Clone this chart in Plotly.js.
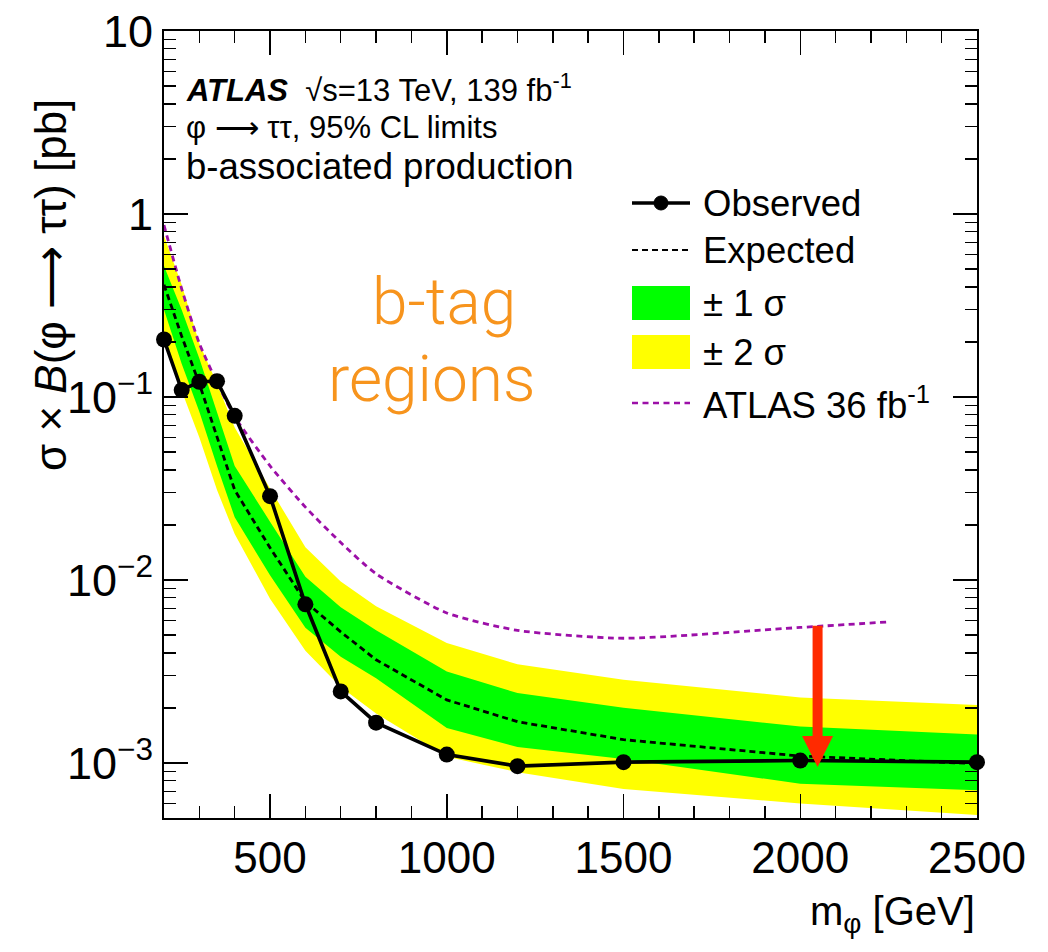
<!DOCTYPE html>
<html>
<head>
<meta charset="utf-8">
<script src="https://cdn.plot.ly/plotly-3.0.1.min.js"></script>
<style>
  html, body { margin: 0; padding: 0; background: #ffffff; }
  #chart { width: 1048px; height: 952px; }
</style>
</head>
<body>
<div id="chart"></div>
<script>
// ---- data ----
const mass = [200, 250, 300, 350, 400, 500, 600, 700, 800, 1000, 1200, 1500, 2000, 2500];
const observed = [0.206, 0.109, 0.121, 0.122, 0.0789, 0.0287, 0.00736, 0.00246, 0.00166, 0.00111, 0.00096, 0.00101, 0.00103, 0.00101];
const expected = [0.41, 0.215, 0.118, 0.060, 0.0310, 0.0150, 0.0076, 0.0052, 0.00366, 0.00221, 0.00168, 0.00134, 0.00109, 0.00099];
const sigma1Up = [0.52, 0.30, 0.162, 0.083, 0.0420, 0.0208, 0.0104, 0.0071, 0.00531, 0.00316, 0.00241, 0.0020, 0.00158, 0.00143];
const sigma1Down = [0.30, 0.152, 0.083, 0.042, 0.0220, 0.0106, 0.00548, 0.0038, 0.00290, 0.00155, 0.00122, 0.00105, 0.00077, 0.00071];
const sigma2Up = [0.76, 0.41, 0.196, 0.118, 0.0680, 0.0316, 0.0151, 0.0098, 0.00718, 0.00452, 0.00346, 0.00285, 0.00228, 0.00207];
const sigma2Down = [0.222, 0.108, 0.060, 0.031, 0.0178, 0.0079, 0.0041, 0.0026, 0.00186, 0.00108, 0.00089, 0.00072, 0.00060, 0.00052];

const mass36 = [200, 250, 300, 350, 400, 500, 600, 700, 800, 1000, 1200, 1500, 2000, 2250];
const atlas36 = [0.87, 0.39, 0.196, 0.12, 0.078, 0.042, 0.0250, 0.0160, 0.0108, 0.0066, 0.0053, 0.0048, 0.0055, 0.0059];

const arrowMass = 2049;
const arrowFrom = 0.00573;
const arrowTo = 0.00095;

const xTickVals = [500, 1000, 1500, 2000, 2500];
const yTickVals = [0.001, 0.01, 0.1, 1, 10];
const yTickText = ['10<sup>\u22123</sup>', '10<sup>\u22122</sup>', '10<sup>\u22121</sup>', '1', '10'];

// ---- helpers ----
const W = 1048, H = 952;
const M = {l: 164, r: 71, t: 31, b: 134};
const PW = W - M.l - M.r, PH = H - M.t - M.b;
const px = v => (v - M.l) / PW;          // pixel x -> paper x
function pyp(v) { return (M.t + PH - v) / PH; } // pixel y -> paper y

const FONT = 'Liberation Sans, Arial, Helvetica, sans-serif';

function band(up, down) {
  return {
    x: mass.concat(mass.slice().reverse()),
    y: up.concat(down.slice().reverse())
  };
}
const b2 = band(sigma2Up, sigma2Down);
const b1 = band(sigma1Up, sigma1Down);

const traces = [
  {x: b2.x, y: b2.y, type: 'scatter', mode: 'lines', fill: 'toself', fillcolor: '#ffff00',
   line: {width: 0, color: '#ffff00'}, hoverinfo: 'skip', showlegend: false},
  {x: b1.x, y: b1.y, type: 'scatter', mode: 'lines', fill: 'toself', fillcolor: '#00ff00',
   line: {width: 0, color: '#00ff00'}, hoverinfo: 'skip', showlegend: false},
  {x: mass36, y: atlas36, type: 'scatter', mode: 'lines',
   line: {color: '#9c0fa8', width: 2.8, dash: '6px,4.5px', shape: 'spline', smoothing: 0.6}, showlegend: false},
  {x: mass, y: expected, type: 'scatter', mode: 'lines',
   line: {color: '#000000', width: 2.8, dash: '6px,4px'}, showlegend: false},
  {x: mass, y: observed, type: 'scatter', mode: 'lines+markers',
   line: {color: '#000000', width: 3.6}, marker: {color: '#000000', size: 16},
   showlegend: false, cliponaxis: false}
];

// legend rows (pixel y)
const legX0 = 632, legX1 = 690, legText = 701;
const rows = {obs: 203, exp: 250, s1: 303, s2: 352, a36: 403};

const shapes = [
  {type: 'line', xref: 'paper', yref: 'paper', x0: px(legX0), x1: px(legX1), y0: pyp(rows.obs), y1: pyp(rows.obs),
   line: {color: '#000', width: 3.6}},
  {type: 'circle', xref: 'paper', yref: 'paper', x0: px(654), x1: px(668), y0: pyp(rows.obs + 7), y1: pyp(rows.obs - 7),
   fillcolor: '#000', line: {color: '#000', width: 1}},
  {type: 'line', xref: 'paper', yref: 'paper', x0: px(legX0), x1: px(legX1), y0: pyp(rows.exp), y1: pyp(rows.exp),
   line: {color: '#000', width: 2.2, dash: '6px,4px'}},
  {type: 'rect', xref: 'paper', yref: 'paper', x0: px(legX0), x1: px(legX1), y0: pyp(rows.s1 + 17), y1: pyp(rows.s1 - 17),
   fillcolor: '#00ff00', line: {width: 0}},
  {type: 'rect', xref: 'paper', yref: 'paper', x0: px(legX0), x1: px(legX1), y0: pyp(rows.s2 + 17), y1: pyp(rows.s2 - 17),
   fillcolor: '#ffff00', line: {width: 0}},
  {type: 'line', xref: 'paper', yref: 'paper', x0: px(legX0), x1: px(legX1), y0: pyp(rows.a36), y1: pyp(rows.a36),
   line: {color: '#9c0fa8', width: 2.4, dash: '6px,4.5px'}}
];

function txt(text, x, y, size, opts) {
  return Object.assign({
    text: text, xref: 'paper', yref: 'paper', x: px(x), y: pyp(y),
    xanchor: 'left', yanchor: 'middle', showarrow: false,
    font: {family: FONT, size: size, color: '#000'}
  }, opts || {});
}

const LS = 36.5;
const orangeFont = {family: 'Roboto, Lato, sans-serif', size: 64, color: '#f7941d', weight: 300};
const annotations = [
  txt('<b><i>ATLAS</i></b>  \u221As=13 TeV, 139 fb<sup>-1</sup>', 184, 88, 31),
  txt('\u03c6 \u27f6 \u03c4\u03c4, 95% CL limits', 184, 128, 31),
  txt('b-associated production', 184, 166, 36.5),
  txt('Observed', legText, rows.obs, LS),
  txt('Expected', legText, rows.exp, LS),
  txt('\u00b1 1 \u03c3', legText, rows.s1, LS),
  txt('\u00b1 2 \u03c3', legText, rows.s2, LS),
  txt('ATLAS 36 fb<sup>-1</sup>', legText, rows.a36, LS),
  txt('b-tag', 444, 302, 64, {xanchor: 'center', font: orangeFont}),
  txt('regions', 431, 380, 64, {xanchor: 'center', font: orangeFont}),
  txt('m<sub>\u03c6</sub> [GeV]', 977, 914, 40, {xanchor: 'right'}),
  {text: '\u03c3 \u00d7 <i>B</i>(\u03c6 \u27f6 \u03c4\u03c4) [pb]', xref: 'paper', yref: 'paper',
   x: px(50), y: pyp(285), xanchor: 'center', yanchor: 'middle', textangle: -90, showarrow: false,
   font: {family: FONT, size: 44, color: '#000'}},
  // red arrow
  {x: arrowMass, y: Math.log10(arrowTo), ax: arrowMass, ay: Math.log10(arrowFrom),
   xref: 'x', yref: 'y', axref: 'x', ayref: 'y', text: '', showarrow: true,
   arrowhead: 2, arrowsize: 0.62, arrowwidth: 10, arrowcolor: '#ff2a00'}
];

const layout = {
  width: W, height: H,
  margin: M,
  paper_bgcolor: '#ffffff', plot_bgcolor: '#ffffff',
  showlegend: false,
  font: {family: FONT, color: '#000'},
  xaxis: {
    type: 'linear', range: [200, 2500],
    tickmode: 'array', tickvals: xTickVals,
    ticks: 'inside', ticklen: 24, tickwidth: 1.5, tickcolor: '#000',
    minor: {tickmode: 'linear', tick0: 0, dtick: 100, ticks: 'inside', ticklen: 12, tickwidth: 1.5, tickcolor: '#000'},
    showline: true, linecolor: '#000', linewidth: 2, mirror: 'allticks',
    showgrid: false, zeroline: false,
    tickfont: {family: FONT, size: 44, color: '#000'}
  },
  yaxis: {
    type: 'log', range: [Math.log10(5e-4), 1],
    tickmode: 'array', tickvals: yTickVals, ticktext: yTickText,
    ticks: 'inside', ticklen: 24, tickwidth: 1.5, tickcolor: '#000',
    minor: {dtick: 'D1', ticks: 'inside', ticklen: 12, tickwidth: 1.5, tickcolor: '#000'},
    showline: true, linecolor: '#000', linewidth: 2, mirror: 'allticks',
    showgrid: false, zeroline: false,
    tickfont: {family: FONT, size: 45, color: '#000'}
  },
  shapes: shapes,
  annotations: annotations
};

Plotly.newPlot('chart', traces, layout, {staticPlot: true, displayModeBar: false});
</script>
</body>
</html>
